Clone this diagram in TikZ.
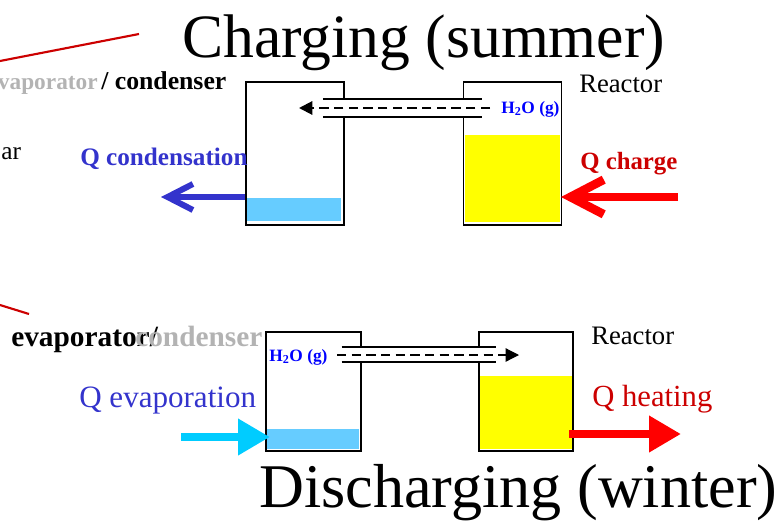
\documentclass[tikz,border=0pt]{standalone}
\usepackage{xcolor}
\usepackage{fontspec}
\setmainfont{Liberation Serif}
\usepackage{tikz}
\usetikzlibrary{arrows.meta}
\usetikzlibrary{positioning}
\definecolor{water}{HTML}{66CCFF}
\definecolor{salt}{HTML}{FFFF00}
\definecolor{heatblue}{HTML}{3333CC}
\definecolor{heatred}{HTML}{CC0000}
\definecolor{hotflow}{HTML}{FF0000}
\definecolor{coldflow}{HTML}{00CCFF}
\definecolor{offgrey}{HTML}{B3B3B3}
\tikzset{
vessel/.style args={#1, #2}{ rectangle, draw = black, line width = 1.4pt, minimum width = #1, minimum height = #2, inner sep = 0pt },
level/.style args={#1, #2, #3}{ rectangle, fill = #3, minimum width = #1, minimum height = #2, inner sep = 0pt },
pipe/.style args={#1, #2}{ rectangle, fill = white, minimum width = #1, minimum height = #2, inner sep = 0pt },
pipe wall/.style = { draw = black, line width = 1.2pt },
vapour/.style = { draw = black, line width = 1.5pt, dash pattern = on 7pt off 4pt, -{Triangle[length = 10pt, width = 10pt]} },
barb out/.style args={#1, #2, #3, #4}{ draw = #1, line width = #2, -{Straight Barb[length = #3, width = #4, line width = #2]} },
solid flow/.style = { draw = #1, line width = 6pt, -{Triangle[length = 24pt, width = 26pt]} },
title/.style = { inner sep = 0pt, anchor = base west, font = \fontsize{46.2}{50}\selectfont },
tag/.style = { inner sep = 0pt, anchor = base west, font = \fontsize{20}{22}\selectfont },
vapour tag/.style = { inner sep = 0pt, anchor = base west, text = blue, font = \fontsize{13}{14}\selectfont\bfseries },
}
\begin{document}
\begin{tikzpicture}[x = 0.75pt, y = -0.75pt]
    \useasboundingbox (0, 0) rectangle (780, 521);
    % charging
    \node[level = {71.5pt, 17.5pt, water}] (cond water) at (293.5, 209.75) {};
    \node[level = {71pt, 65pt, salt}] (reac salt) at (512.25, 178.25) {};
    \node[vessel = {73.5pt, 107.5pt}] (condenser) at (294.75, 153.5) {};
    \node[vessel = {73.5pt, 107.5pt}] (reactor a) at (512.5, 153.5) {};
    \node[pipe = {119pt, 13.5pt}] (pipe a) at (402.5, 108) {};
    \draw[pipe wall] (pipe a.north west) -- (pipe a.north east);
    \draw[pipe wall] (pipe a.south west) -- (pipe a.south east);
    \coordinate (vapour a start) at (490, 108);
    \coordinate (vapour a end) at (299, 108);
    \draw[vapour] (vapour a start) -- (vapour a end);
    \node[vapour tag] (vapour a) at (501, 113) {H\textsubscript{2}O (g)};
    \node[title] (charging) at (182, 57) {Charging (summer)};
    \node[tag] (reactor a tag) at (579, 92.5) {Reactor};
    \node[tag, text = heatred, font = \fontsize{18.6}{20}\selectfont\bfseries] (q charge) at (580, 169) {Q charge};
    \node[tag, text = heatblue, font = \fontsize{18.9}{20}\selectfont\bfseries] (q cond) at (80, 165) {Q condensation};
    \node[tag, text = offgrey, font = \fontsize{17.5}{20}\selectfont\bfseries, anchor = base east] (off a) at (98, 89.5) {vaporator};
    \node[tag, font = \fontsize{19.3}{20}\selectfont\bfseries] (cond tag) at (101, 89.5) {/ condenser};
    \node[tag, font = \fontsize{19}{20}\selectfont] (cut tag) at (1, 159) {ar};
    \coordinate (cond out) at (161, 197);
    \coordinate (cond wall) at (245, 197);
    \coordinate (charge in) at (678, 197);
    \coordinate (charge wall) at (561, 197);
    \draw[barb out = {heatblue, 4.5pt, 19pt, 19.5pt}] (cond wall) -- (cond out);
    \draw[barb out = {hotflow, 6.5pt, 25pt, 26pt}] (charge in) -- (charge wall);
    \coordinate (mark a left) at (0, 61);
    \coordinate (mark a right) at (139, 34);
    \draw[heatred, line width = 1.6pt] (mark a left) -- (mark a right);
    % discharging
    \node[level = {69pt, 15pt, water}] (evap water) at (313.25, 439) {};
    \node[level = {69pt, 55pt, salt}] (reac salt b) at (526, 412.5) {};
    \node[vessel = {71pt, 89pt}] (evaporator) at (313.25, 391.5) {};
    \node[vessel = {71pt, 89pt}] (reactor b) at (526, 391.5) {};
    \node[pipe = {115.5pt, 11pt}] (pipe b) at (419, 354.5) {};
    \draw[pipe wall] (pipe b.north west) -- (pipe b.north east);
    \draw[pipe wall] (pipe b.south west) -- (pipe b.south east);
    \coordinate (vapour b start) at (337, 355);
    \coordinate (vapour b end) at (519, 355);
    \draw[vapour, line width = 0.9pt] (vapour b start) -- (vapour b end);
    \node[vapour tag] (vapour b) at (269, 361) {H\textsubscript{2}O (g)};
    \node[title, font = \fontsize{46.6}{50}\selectfont] (discharging) at (259, 507.5) {Discharging (winter)};
    \node[tag] (reactor b tag) at (591, 344.5) {Reactor};
    \node[tag, text = heatred, font = \fontsize{23}{24}\selectfont] (q heat) at (592, 406) {Q heating};
    \node[tag, text = heatblue, font = \fontsize{23.3}{24}\selectfont] (q evap) at (79, 407) {Q evaporation};
    \node[tag, font = \fontsize{22}{24}\selectfont\bfseries] (evap tag) at (11, 346) {evaporator/};
    \node[tag, text = offgrey, font = \fontsize{22}{24}\selectfont\bfseries] (off b) at (135, 346) {condenser};
    \coordinate (evap in) at (181, 437);
    \coordinate (evap wall) at (270, 437);
    \coordinate (heat wall) at (569, 434);
    \coordinate (heat out) at (681, 434);
    \draw[solid flow = coldflow] (evap in) -- (evap wall);
    \draw[solid flow = hotflow] (heat wall) -- (heat out);
    \coordinate (mark b left) at (0, 305);
    \coordinate (mark b right) at (29, 314);
    \draw[heatred, line width = 1.6pt] (mark b left) -- (mark b right);
\end{tikzpicture}
\end{document}
